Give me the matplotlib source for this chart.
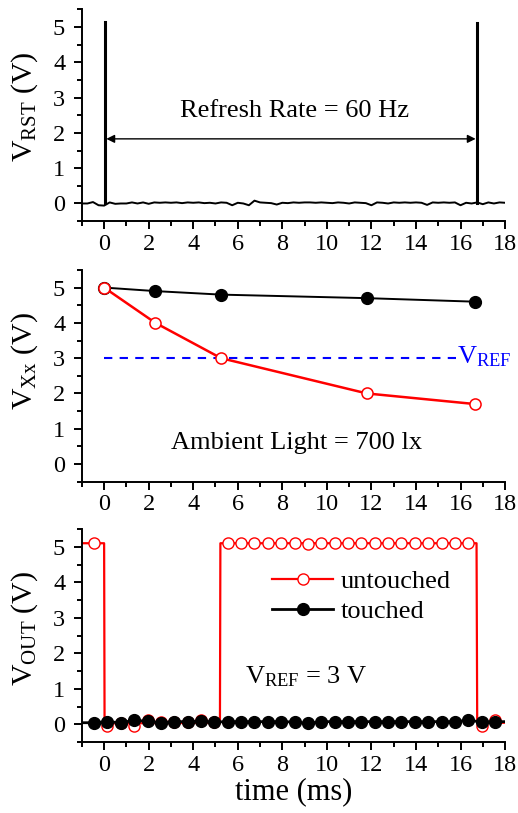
import matplotlib
matplotlib.use("Agg")
import matplotlib.pyplot as plt
from matplotlib.lines import Line2D
from matplotlib.ticker import MultipleLocator
import numpy as np

plt.rcParams['font.family'] = ['Liberation Serif', 'DejaVu Serif']
plt.rcParams['mathtext.fontset'] = 'custom'
plt.rcParams['mathtext.rm'] = 'Liberation Serif'
plt.rcParams['mathtext.it'] = 'Liberation Serif:italic'

# --- top panel: reset pulse ---
rst_t = np.arange(-1.0, 18.01, 0.25)
rst_v = [0.0, 0.0, 0.04, -0.05, -0.06, 0.03, -0.01, 0.0, 0.0, 0.03,
         0.0, 0.03, -0.01, 0.03, 0.02, 0.03, 0.02, 0.03, 0.01, 0.03,
         0.02, 0.03, 0.01, 0.02, 0.0, 0.03, 0.02, -0.05, 0.02, 0.0,
         -0.05, 0.08, 0.03, 0.02, 0.01, -0.03, 0.02, 0.01, 0.03, 0.02,
         0.03, 0.03, 0.02, 0.03, 0.02, 0.01, 0.03, 0.02, 0.0, 0.03,
         0.02, 0.01, -0.05, 0.03, 0.02, 0.0, 0.03, 0.02, 0.03, 0.02,
         0.03, 0.02, -0.04, 0.03, 0.02, 0.03, 0.02, 0.03, -0.05, 0.02,
         0.0, 0.03, -0.02, 0.03, 0.0, 0.03, 0.02]
spike_t = [0.05, 16.72]
spike_h = [5.15, 5.1]

# --- middle panel: sensing node voltage ---
xx_t = [0.0, 2.3, 5.25, 11.8, 16.65]
xx_touched = [5.0, 4.9, 4.8, 4.7, 4.6]
xx_untouched = [5.0, 4.0, 3.0, 2.0, 1.7]
v_ref = 3.0

# --- bottom panel: output ---
out_t = np.arange(-0.45, 17.6, 0.6)
out_untouched = [5.1, -0.03, 0.03, -0.05, 0.12, 0.08, 0.06, 0.07, 0.12, 0.06,
                 5.1, 5.1, 5.12, 5.1, 5.1, 5.1, 5.08, 5.1, 5.1, 5.12,
                 5.1, 5.1, 5.1, 5.1, 5.12, 5.1, 5.1, 5.1, 5.12, -0.03, 0.12]
out_touched = [0.05, 0.08, 0.05, 0.12, 0.09, 0.05, 0.08, 0.08, 0.09, 0.07,
               0.08, 0.08, 0.08, 0.08, 0.08, 0.07, 0.03, 0.08, 0.08, 0.08,
               0.08, 0.08, 0.08, 0.08, 0.08, 0.08, 0.08, 0.08, 0.12, 0.07, 0.08]
edge_t = [-1.0, 0.0, 0.02, 5.2, 5.22, 16.72, 16.75, 18.0]
edge_v = [5.1, 5.1, 0.03, 0.05, 5.1, 5.1, 0.03, 0.05]

fig = plt.figure(figsize=(5.18, 8.13), dpi=100)
L, W = 0.158, 0.817
ax1 = fig.add_axes([L, 0.728, W, 0.2606])
ax2 = fig.add_axes([L, 0.4075, W, 0.2605])
ax3 = fig.add_axes([L, 0.087, W, 0.2623])


def style(ax):
    ax.set_xlim(-1, 18)
    ax.set_ylim(-0.5, 5.5)
    for s in ['top', 'right']:
        ax.spines[s].set_visible(False)
    for s in ['left', 'bottom']:
        ax.spines[s].set_linewidth(1.4)
    ax.xaxis.set_major_locator(MultipleLocator(2))
    ax.xaxis.set_minor_locator(MultipleLocator(1))
    ax.yaxis.set_major_locator(MultipleLocator(1))
    ax.yaxis.set_minor_locator(MultipleLocator(0.5))
    ax.tick_params(which='major', direction='out', length=6, width=1.4,
                   labelsize=17.5, pad=3)
    ax.tick_params(which='minor', direction='out', length=3.5, width=1.4)
    ax.tick_params(axis='y', pad=6)
    ax.set_yticks(range(0, 6))


for ax in (ax1, ax2, ax3):
    style(ax)

# top
ax1.plot(rst_t, rst_v, color='black', lw=1.4)
for t, h in zip(spike_t, spike_h):
    ax1.plot([t, t], [0, h], color='black', lw=2.2)
ax1.annotate('', xy=(0.1, 1.83), xytext=(16.68, 1.83),
             arrowprops=dict(arrowstyle='<|-|>', color='black', lw=1.0,
                             mutation_scale=12, shrinkA=0, shrinkB=0))
ax1.text(8.57, 2.63, 'Refresh Rate = 60 Hz', fontsize=19, ha='center', va='center')
ax1.set_ylabel(r'V$_\mathrm{RST}$ (V)', fontsize=21.5)
ax1.yaxis.set_label_coords(-0.10, 0.54)

# middle
ax2.plot([xx_t[0], 15.8], [v_ref, v_ref], color='blue', ls=(0, (4, 3.5)), lw=1.5)
ax2.plot(xx_t, xx_touched, color='black', lw=1.4, marker='o', ms=8.5,
         mfc='black', mec='black')
ax2.plot(xx_t, xx_untouched, color='red', lw=1.8, marker='o', ms=8,
         mfc='white', mec='red', mew=1.1)
ax2.text(15.85, 3.05, r'V$_\mathrm{REF}$', color='blue', fontsize=19,
         ha='left', va='center')
ax2.text(8.64, 0.6, 'Ambient Light = 700 lx', fontsize=19, ha='center', va='center')
ax2.set_ylabel(r'V$_\mathrm{Xx}$ (V)', fontsize=21.5)
ax2.yaxis.set_label_coords(-0.10, 0.568)

# bottom
ax3.plot(edge_t, edge_v, color='red', lw=1.6)
ax3.plot(out_t, out_untouched, ls='none', marker='o', ms=8, mfc='white',
         mec='red', mew=1.0)
ax3.plot(np.concatenate(([-1.0], out_t, [18.0])),
         np.concatenate(([out_touched[0]], out_touched, [out_touched[-1]])),
         color='black', lw=2.0, marker='o', ms=8.5, mfc='black', mec='black',
         markevery=list(range(1, len(out_t) + 1)))
ax3.text(9.05, 1.34, r'V$_\mathrm{REF}$ = 3 V', fontsize=19, ha='center', va='center')
handles = [Line2D([], [], color='red', lw=1.6, marker='o', ms=8, mfc='white', mec='red'),
           Line2D([], [], color='black', lw=2.0, marker='o', ms=8.5, mfc='black')]
ax3.legend(handles, ['untouched', 'touched'], loc='upper left',
           bbox_to_anchor=(0.425, 0.86), frameon=False, fontsize=19,
           handlelength=2.3, handletextpad=0.3, labelspacing=0.25, borderaxespad=0)
ax3.set_ylabel(r'V$_\mathrm{OUT}$ (V)', fontsize=21.5)
ax3.yaxis.set_label_coords(-0.10, 0.536)
ax3.set_xlabel('time (ms)', fontsize=22, labelpad=1)

fig.savefig('out.png', dpi=100)
